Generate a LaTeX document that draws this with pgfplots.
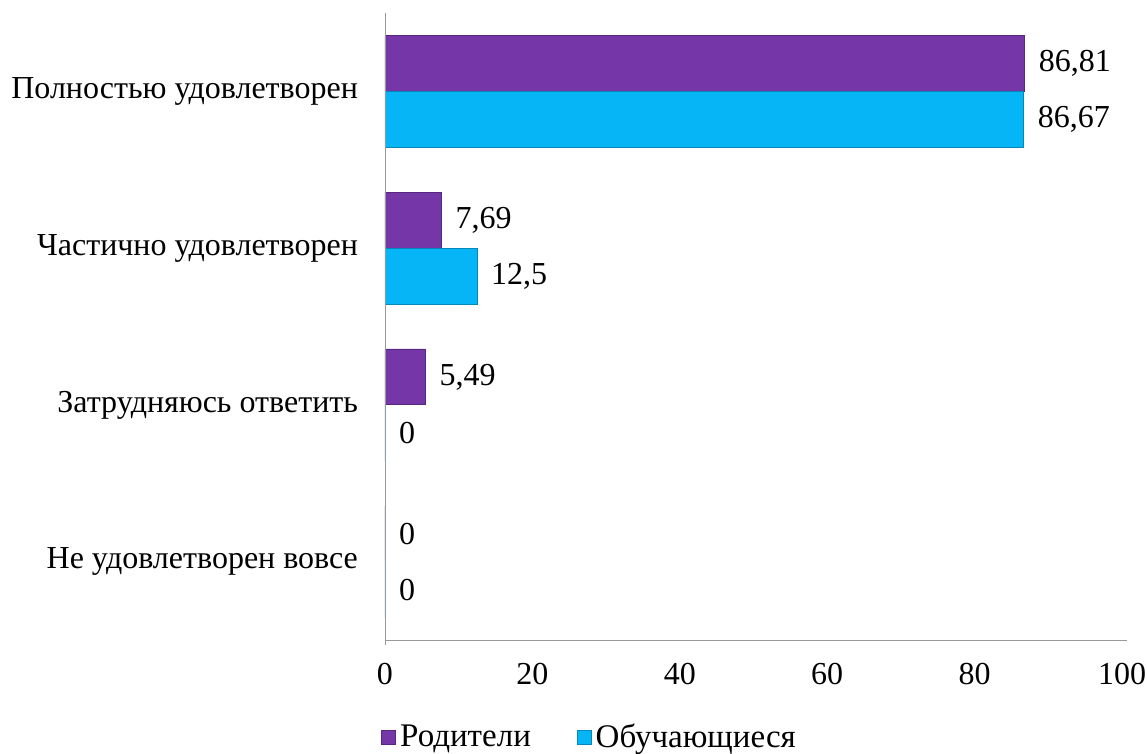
\documentclass[border=0pt]{standalone}
\usepackage{fontspec}
\setmainfont{Liberation Serif}
\usepackage{pgfplots}
\pgfplotsset{compat=1.18}

\definecolor{parents}{HTML}{7536A8}
\definecolor{pupils}{HTML}{05B5F5}

\begin{document}
\begin{tikzpicture}
  \path[use as bounding box] (0,0) rectangle (573.5pt,377pt);
  \begin{axis}[
      at={(192.5pt,57pt)}, anchor=south west,
      width=368.5pt, height=313.5pt, scale only axis,
      xbar, y dir=reverse, axis on top,
      xmin=0, xmax=100, ymin=-0.5, ymax=3.5,
      xtick={0,20,...,100}, ytick={0,1,2,3},
      yticklabels={Полностью удовлетворен, Частично удовлетворен,
                   Затрудняюсь ответить, Не удовлетворен вовсе},
      axis x line*=bottom, axis y line*=left,
      axis line style={draw=black!40, -, shorten >=-2.5pt},
      major tick length=0pt,
      tick label style={font=\fontsize{16}{19}\selectfont},
      xticklabel style={yshift=-8pt},
      yticklabel style={xshift=-10pt},
      /pgf/number format/assume math mode=true,
      /pgf/number format/use comma,
      bar width=0.357,
      nodes near coords,
      every node near coord/.append style={font=\fontsize{16}{19}\selectfont, anchor=west, xshift=3.5pt, text=black},
      legend style={at={(axis description cs:0.279,-0.155)}, anchor=center,
                    draw=none, legend columns=2, font=\fontsize{16.5}{19}\selectfont,
                    /tikz/every even column/.append style={column sep=21pt}},
      legend image code/.code={\fill[#1] (0pt,-3.5pt) rectangle (7pt,3.5pt);},
    ]
    \addplot[fill=parents, draw=parents!75!black, bar shift=-0.1786]
      coordinates {(86.81,0) (7.69,1) (5.49,2) (0,3)};
    \addlegendentry{Родители}
    \addplot[fill=pupils, draw=pupils!75!black, bar shift=0.1786]
      coordinates {(86.67,0) (12.5,1) (0,2) (0,3)};
    \addlegendentry{Обучающиеся}
  \end{axis}
\end{tikzpicture}
\end{document}
